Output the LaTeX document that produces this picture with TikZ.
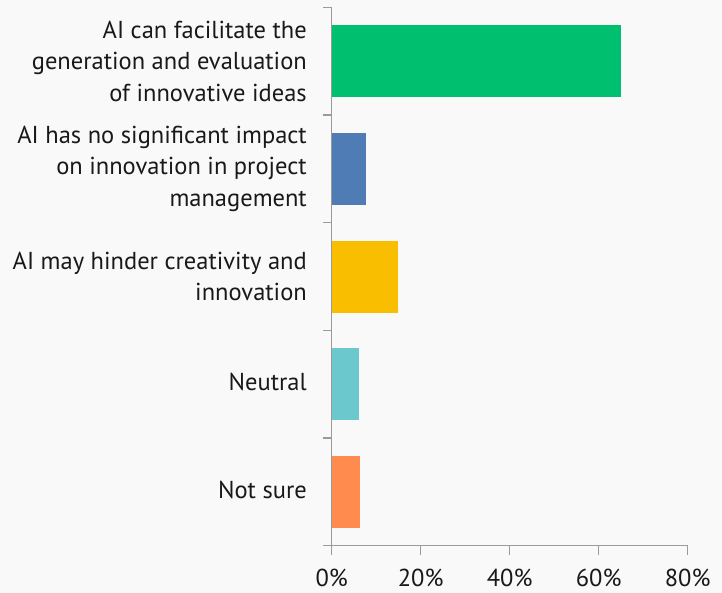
\documentclass[tikz,border=0pt]{standalone}
\usepackage{fontspec}
\setmainfont{PT Sans}
\definecolor{bggray}{HTML}{F9F9F9}
\definecolor{axisgray}{HTML}{9A9A9A}
\definecolor{cgreen}{HTML}{00BF6F}
\definecolor{cblue}{HTML}{507CB6}
\definecolor{cyellow}{HTML}{F9BE00}
\definecolor{cteal}{HTML}{6BC8CD}
\definecolor{corange}{HTML}{FF8B4F}
\tikzset{
  catlabel/.style={anchor=east, align=right, inner sep=0pt,
    font=\fontsize{24.5}{31.5}\selectfont, text=black!90},
  ticklabel/.style={anchor=base, inner sep=0pt,
    font=\fontsize{24.5}{31.5}\selectfont, text=black!90},
  axisline/.style={draw=axisgray, line width=1.3pt},
  bar/.style={inner sep=0pt, outer sep=0pt, anchor=west, minimum height=72pt}
}
\begin{document}
\begin{tikzpicture}[x=1pt,y=-1pt]
    \def\x{4.45}
    \def\y{107.7}
    \useasboundingbox[fill=bggray] (0,0) rectangle (722,593);
    % origin of the axes
    \coordinate (O) at (331.7, 7.3+5*\y);
    \coordinate (T) at (331.7, 7.3);
    \coordinate (E) at (331.7+80*\x, 7.3+5*\y);
    % bars
    \node[bar, fill=cgreen,  minimum width=65.0*\x] (B0) at (331.7, 7.3+0.5*\y) {};
    \node[bar, fill=cblue,   minimum width=7.7*\x]  (B1) at (331.7, 7.3+1.5*\y) {};
    \node[bar, fill=cyellow, minimum width=14.9*\x] (B2) at (331.7, 7.3+2.5*\y) {};
    \node[bar, fill=cteal,   minimum width=6.1*\x]  (B3) at (331.7, 7.3+3.5*\y) {};
    \node[bar, fill=corange, minimum width=6.4*\x]  (B4) at (331.7, 7.3+4.5*\y) {};
    % category labels
    \node[catlabel] (L0) at (307, 7.3+0.5*\y) {AI can facilitate the\\generation and evaluation\\of innovative ideas};
    \node[catlabel] (L1) at (307, 7.3+1.5*\y) {AI has no significant impact\\on innovation in project\\management};
    \node[catlabel] (L2) at (307, 7.3+2.5*\y) {AI may hinder creativity and\\innovation};
    \node[catlabel] (L3) at (307, 7.3+3.5*\y-2) {Neutral};
    \node[catlabel] (L4) at (307, 7.3+4.5*\y-2) {Not sure};
    % axes
    \draw[axisline] (T) -- (O) -- (E);
    \foreach \i in {0,...,5}
      \draw[axisline] (323.3, 7.3+\i*\y) -- (331.7, 7.3+\i*\y);
    \foreach \v in {0,20,40,60,80} {
      \draw[axisline] (331.7+\v*\x, 7.3+5*\y) -- (331.7+\v*\x, 555);
      \node[ticklabel] (X\v) at (331.7+\v*\x, 586.7) {\v\%};
    }
  \end{tikzpicture}
\end{document}
